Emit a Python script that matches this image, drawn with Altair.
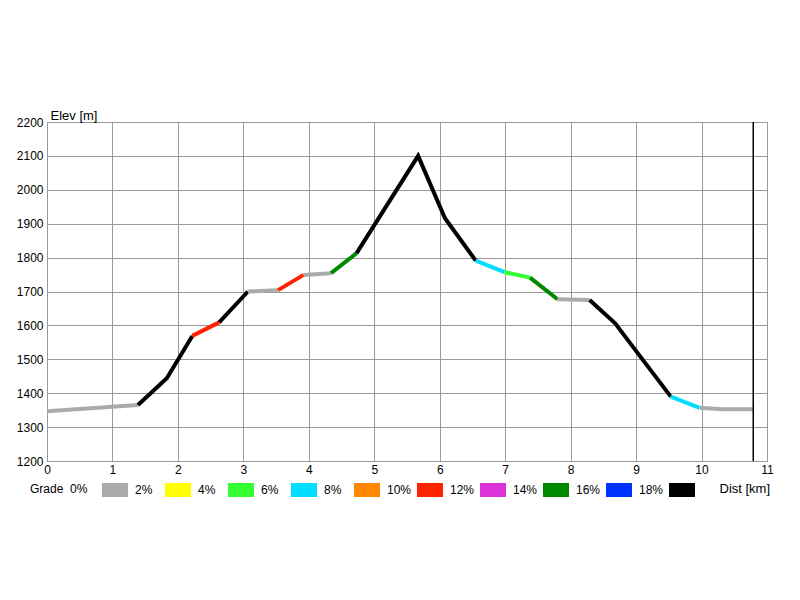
import altair as alt
import pandas as pd

# ---- data ----
dist_km = [0.00, 1.39, 1.83, 2.22, 2.63, 3.07, 3.53, 3.92, 4.34, 4.73, 5.67, 6.08,
           6.55, 6.99, 7.38, 7.80, 8.29, 8.68, 9.01, 9.53, 9.97, 10.31, 10.79]
elev_m = [1347, 1365, 1444, 1569, 1609, 1700, 1704, 1749, 1754, 1813, 2100, 1916,
          1791, 1757, 1741, 1677, 1675, 1606, 1522, 1390, 1357, 1353, 1353]
segment_grade = ["0-2%", ">18%", ">18%", "10-12%", ">18%", "0-2%", "10-12%", "0-2%",
                 "14-16%", ">18%", ">18%", ">18%", "6-8%", "4-6%", "14-16%", "0-2%",
                 ">18%", ">18%", ">18%", "6-8%", "0-2%", "0-2%"]

grade_classes = ["0-2%", "2-4%", "4-6%", "6-8%", "8-10%", "10-12%", "12-14%",
                 "14-16%", "16-18%", ">18%"]
grade_colors = ["#aaaaaa", "#ffff00", "#33ff33", "#00ddff", "#ff8800", "#ff2200",
                "#dd33dd", "#008800", "#0033ff", "#000000"]

x_ticks = list(range(0, 12))
y_ticks = list(range(1200, 2201, 100))

# ---- build runs of equal colour so each run is one polyline ----
rows = []
run = -1
for i, g in enumerate(segment_grade):
    if i == 0 or g != segment_grade[i - 1]:
        run += 1
        rows.append({"dist": dist_km[i], "elev": elev_m[i], "run": run, "grade": g})
    rows.append({"dist": dist_km[i + 1], "elev": elev_m[i + 1], "run": run, "grade": g})
df = pd.DataFrame(rows)
end_df = pd.DataFrame({"dist": [dist_km[-1]]})

FONT = "Liberation Sans"

# legend swatch: four overlapping horizontal strokes forming a 26x14 block
SWATCH = "M-1,-0.3846H1M-1,-0.1346H1M-1,0.1346H1M-1,0.3846H1"

line = alt.Chart(df).mark_line(strokeWidth=4, strokeJoin="miter", strokeCap="butt").encode(
    x=alt.X("dist:Q",
            scale=alt.Scale(domain=[0, 11], nice=False, zero=False),
            axis=alt.Axis(values=x_ticks, format="d", title="Dist [km]",
                          titleX=672, titleY=31, titleFontSize=13,
                          titleAlign="left", titleBaseline="alphabetic",
                          labelPadding=3, labelFlush=False)),
    y=alt.Y("elev:Q",
            scale=alt.Scale(domain=[1200, 2200], nice=False, zero=False),
            axis=alt.Axis(values=y_ticks, format="d", title="Elev [m]", titleAngle=0,
                          titleX=3, titleY=-3, titleFontSize=13, titleAlign="left",
                          titleBaseline="alphabetic", labelPadding=4,
                          labelFlush=False)),
    color=alt.Color("grade:N",
                    scale=alt.Scale(domain=grade_classes, range=grade_colors),
                    legend=alt.Legend(
                        orient="none", legendX=-17, legendY=353,
                        direction="horizontal",
                        title="Grade\u00a0\u00a00%", titleOrient="left",
                        titleFont=FONT, titleFontSize=12, titleFontWeight="normal",
                        titleColor="black", titlePadding=12, titleBaseline="middle",
                        symbolType=SWATCH, symbolSize=676, symbolStrokeWidth=4,
                        symbolOpacity=1,
                        labelFont=FONT, labelFontSize=12, labelColor="black",
                        labelOffset=5, columnPadding=-3, gridAlign="all",
                        padding=0, offset=0,
                        labelExpr="datum.label == '>18%' ? '' : substring(datum.label, indexof(datum.label, '-') + 1)",
                    )),
    detail="run:N",
    order="dist:Q",
)

rule = alt.Chart(end_df).mark_rule(color="black", strokeWidth=1.5).encode(x="dist:Q")

chart = alt.layer(line, rule).properties(
    width=720, height=339,
    autosize=alt.AutoSizeParams(type="none"),
    padding={"left": 39, "top": 114, "right": 25, "bottom": 90},
    background="white",
).configure_view(
    stroke="#999999", strokeWidth=1
).configure_axis(
    labelFont=FONT, labelFontSize=12, labelColor="black",
    titleFont=FONT, titleFontSize=12, titleFontWeight="normal", titleColor="black",
    ticks=False, domain=False,
    grid=True, gridColor="#999999", gridOpacity=1, gridWidth=1,
)

chart.save("out.html", embed_options={"renderer": "svg", "actions": False})
